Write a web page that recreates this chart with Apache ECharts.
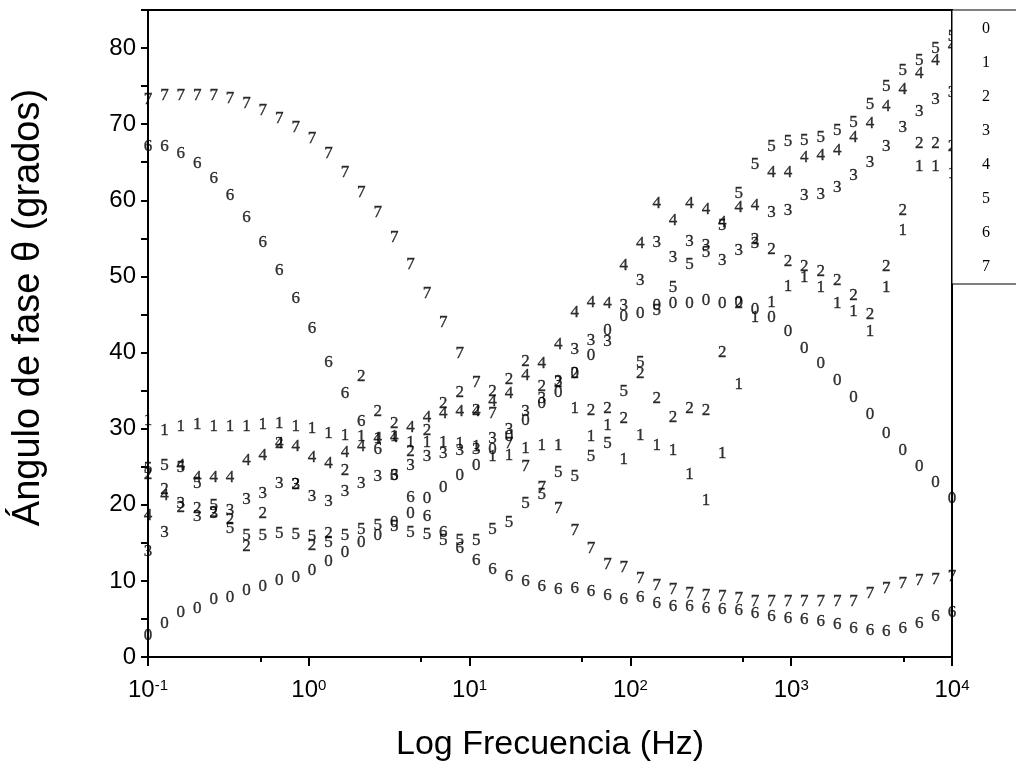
<!DOCTYPE html>
<html>
<head>
<meta charset="utf-8">
<script src="https://cdn.jsdelivr.net/npm/echarts@6/dist/echarts.min.js"></script>
<style>
html,body{margin:0;padding:0;background:#fff;}
#c{width:1016px;height:761px;}
</style>
</head>
<body>
<div id="c"></div>
<script>
// Frequencies (Hz), 50 log-spaced points
const freq = [0.1, 0.1265, 0.16, 0.2024, 0.256, 0.3238, 0.4096, 0.518, 0.6553, 0.8286,
  1.048, 1.326, 1.677, 2.121, 2.683, 3.394, 4.292, 5.43, 6.868, 8.688,
  10.99, 13.9, 17.58, 22.23, 28.12, 35.56, 45, 56.9, 71.97, 91.03,
  115.1, 145.6, 184.2, 233, 294.7, 372.8, 471.5, 596.4, 754.3, 954.1,
  1207, 1526, 1931, 2442, 3089, 3907, 4943, 6252, 7906, 10000];

// Phase angle (degrees) for each series
const s0 = [2.8, 4.4, 5.8, 6.4, 7.6, 7.8, 8.7, 9.3, 10.0, 10.5, 11.3, 12.5, 13.7, 15.0, 16.0, 17.7, 18.8, 20.8, 22.3, 23.9,
  25.2, 27.3, 29.0, 31.1, 33.3, 34.8, 37.2, 39.6, 42.9, 44.7, 45.1, 46.2, 46.4, 46.4, 46.8, 46.4, 46.6, 45.7, 44.6, 42.8,
  40.5, 38.5, 36.3, 34.1, 31.8, 29.4, 27.1, 25.0, 22.9, 20.8];
const s1 = [31.1, 29.8, 30.3, 30.6, 30.3, 30.3, 30.3, 30.6, 30.7, 30.3, 30.0, 29.3, 29.1, 29.0, 28.7, 28.9, 28.2, 28.2, 28.2, 28.0,
  27.6, 26.3, 26.5, 27.4, 27.8, 27.8, 32.7, 28.9, 30.4, 26.0, 29.1, 27.8, 27.1, 24.0, 20.5, 26.7, 35.8, 44.6, 46.6, 48.7,
  49.9, 48.5, 46.5, 45.4, 42.8, 48.6, 56.0, 64.5, 64.4, 63.5];
const s2 = [24.0, 22.0, 19.6, 19.5, 19.0, 18.0, 14.5, 18.8, 28.0, 22.7, 14.6, 16.2, 24.5, 36.8, 32.2, 30.7, 27.0, 29.8, 33.3, 34.8,
  32.4, 34.9, 36.4, 38.8, 35.5, 36.0, 37.2, 32.4, 32.7, 31.3, 37.2, 33.9, 31.5, 32.6, 32.4, 40.0, 46.5, 54.8, 53.5, 51.9,
  51.3, 50.7, 49.5, 47.5, 45.0, 51.3, 58.6, 67.4, 67.4, 67.1];
const s3 = [13.8, 16.4, 20.2, 18.4, 18.8, 19.2, 20.7, 21.5, 22.8, 22.7, 21.1, 20.4, 21.7, 22.8, 23.7, 23.9, 25.2, 26.3, 26.7, 27.1,
  27.3, 28.7, 29.9, 32.2, 33.9, 36.2, 40.4, 41.6, 41.4, 46.2, 49.4, 54.5, 52.5, 54.6, 54.0, 52.1, 53.4, 54.3, 58.4, 58.6,
  60.6, 60.8, 61.7, 63.2, 65.0, 67.1, 69.6, 71.7, 73.3, 74.1];
const s4 = [18.6, 21.2, 25.2, 23.6, 23.6, 23.6, 25.8, 26.5, 28.0, 27.6, 26.2, 25.4, 26.8, 27.7, 28.7, 28.8, 30.2, 31.4, 32.0, 32.3,
  32.2, 33.6, 34.6, 37.0, 38.5, 41.1, 45.3, 46.6, 46.5, 51.4, 54.3, 59.6, 57.4, 59.6, 58.8, 57.1, 59.0, 59.3, 63.7, 63.6,
  65.6, 65.9, 66.5, 68.2, 70.1, 72.3, 74.6, 76.6, 78.4, 80.2];
const s5 = [24.7, 25.2, 24.9, 22.8, 19.9, 16.9, 15.9, 15.9, 16.2, 16.1, 15.8, 15.1, 16.0, 16.7, 17.3, 17.1, 16.3, 16.1, 15.3, 15.3,
  15.3, 16.7, 17.7, 20.1, 21.4, 24.3, 23.7, 26.4, 28.0, 34.9, 38.7, 45.5, 48.5, 51.6, 53.2, 56.7, 60.9, 64.7, 67.1, 67.7,
  67.8, 68.2, 69.1, 70.2, 72.6, 75.0, 77.1, 78.4, 80.0, 81.5];
const s6 = [67.1, 67.1, 66.1, 64.8, 62.9, 60.6, 57.7, 54.5, 50.8, 47.1, 43.2, 38.7, 34.6, 30.9, 27.2, 23.9, 20.9, 18.4, 16.4, 14.3,
  12.7, 11.5, 10.6, 9.9, 9.3, 8.9, 9.0, 8.6, 8.1, 7.5, 7.8, 7.0, 6.6, 6.6, 6.4, 6.3, 6.1, 5.7, 5.3, 5.1,
  4.9, 4.6, 4.2, 3.8, 3.5, 3.3, 3.8, 4.4, 5.3, 5.9];
const s7 = [73.3, 73.8, 73.8, 73.8, 73.8, 73.4, 72.7, 71.8, 70.8, 69.5, 68.1, 66.1, 63.7, 61.0, 58.4, 55.1, 51.5, 47.7, 44.0, 39.9,
  36.1, 32.0, 28.1, 25.0, 22.3, 19.5, 16.6, 14.3, 12.1, 11.8, 10.3, 9.4, 8.9, 8.4, 8.1, 7.9, 7.7, 7.3, 7.3, 7.3,
  7.3, 7.3, 7.3, 7.3, 8.4, 9.0, 9.7, 10.0, 10.2, 10.6];

const seriesNames = ['0', '1', '2', '3', '4', '5', '6', '7'];
const seriesValues = [s0, s1, s2, s3, s4, s5, s6, s7];
const minorTickExps = [-0.30103, 0.69897, 1.69897, 2.69897, 3.69897]; // 5 x 10^n

const SERIF = '"Liberation Serif", "Times New Roman", serif';
const SANS = 'Arial, "Liberation Sans", sans-serif';

const chart = echarts.init(document.getElementById('c'));

const series = seriesNames.map((n, i) => ({
  name: n,
  type: 'scatter',
  xAxisIndex: 0,
  yAxisIndex: 0,
  data: freq.map((f, j) => [f, seriesValues[i][j]]),
  symbol: 'circle',
  symbolSize: 1,
  itemStyle: { color: 'rgba(0,0,0,0)' },
  label: {
    show: true, position: 'inside', formatter: n,
    fontFamily: SERIF, fontSize: 17, color: '#000',
    textBorderColor: '#000', textBorderWidth: 0.35
  },
  emphasis: { disabled: true }
}));

chart.setOption({
  animation: false,
  backgroundColor: '#fff',
  grid: {
    left: 148, right: 64, top: 10, bottom: 104,
    containLabel: false, outerBoundsMode: 'none',
    show: true, borderColor: '#000', borderWidth: 2, backgroundColor: 'transparent'
  },
  legend: {
    data: seriesNames,
    orient: 'vertical',
    left: 952, top: 10,
    padding: [11, 200, 9, 25],
    itemGap: 18,
    itemWidth: 0, itemHeight: 16,
    borderColor: '#000', borderWidth: 1,
    backgroundColor: '#fff',
    textStyle: { fontFamily: SERIF, fontSize: 16, color: '#000', lineHeight: 16 },
    selectedMode: false
  },
  xAxis: [{
    type: 'log', logBase: 10, min: 0.1, max: 10000,
    name: 'Log Frecuencia (Hz)', nameLocation: 'middle', nameGap: 71,
    nameTextStyle: { fontFamily: SANS, fontSize: 34, color: '#000' },
    axisLine: { show: true, onZero: false, lineStyle: { color: '#000', width: 2 } },
    axisTick: { show: true, inside: false, length: 9, lineStyle: { color: '#000', width: 2 } },
    minorTick: { show: false },
    splitLine: { show: false },
    axisLabel: {
      margin: 21,
      formatter: v => '{b|10}{s|' + Math.round(Math.log10(v)) + '}',
      rich: {
        b: { fontFamily: SANS, fontSize: 24, color: '#000' },
        s: { fontFamily: SANS, fontSize: 15, color: '#000', verticalAlign: 'top' }
      }
    }
  }, {
    type: 'value', min: -1, max: 4, position: 'bottom', offset: 0,
    axisLine: { show: false, onZero: false },
    axisLabel: { show: false },
    splitLine: { show: false },
    axisTick: { show: true, inside: false, length: 5, customValues: minorTickExps, lineStyle: { color: '#000', width: 2 } }
  }],
  yAxis: {
    type: 'value', min: 0, max: 85, interval: 5,
    name: 'Ángulo de fase θ (grados)', nameLocation: 'middle', nameGap: 100,
    nameTextStyle: { fontFamily: SANS, fontSize: 38, color: '#000', padding: [0, 0, 0, 52] },
    axisLine: { show: true, onZero: false, lineStyle: { color: '#000', width: 2 } },
    axisTick: { show: true, inside: false, length: 7, lineStyle: { color: '#000', width: 2 } },
    splitLine: { show: false },
    axisLabel: {
      margin: 12, fontFamily: SANS, fontSize: 24, color: '#000',
      formatter: v => (v % 10 === 0 ? String(v) : '')
    }
  },
  series: series
});
</script>
</body>
</html>
